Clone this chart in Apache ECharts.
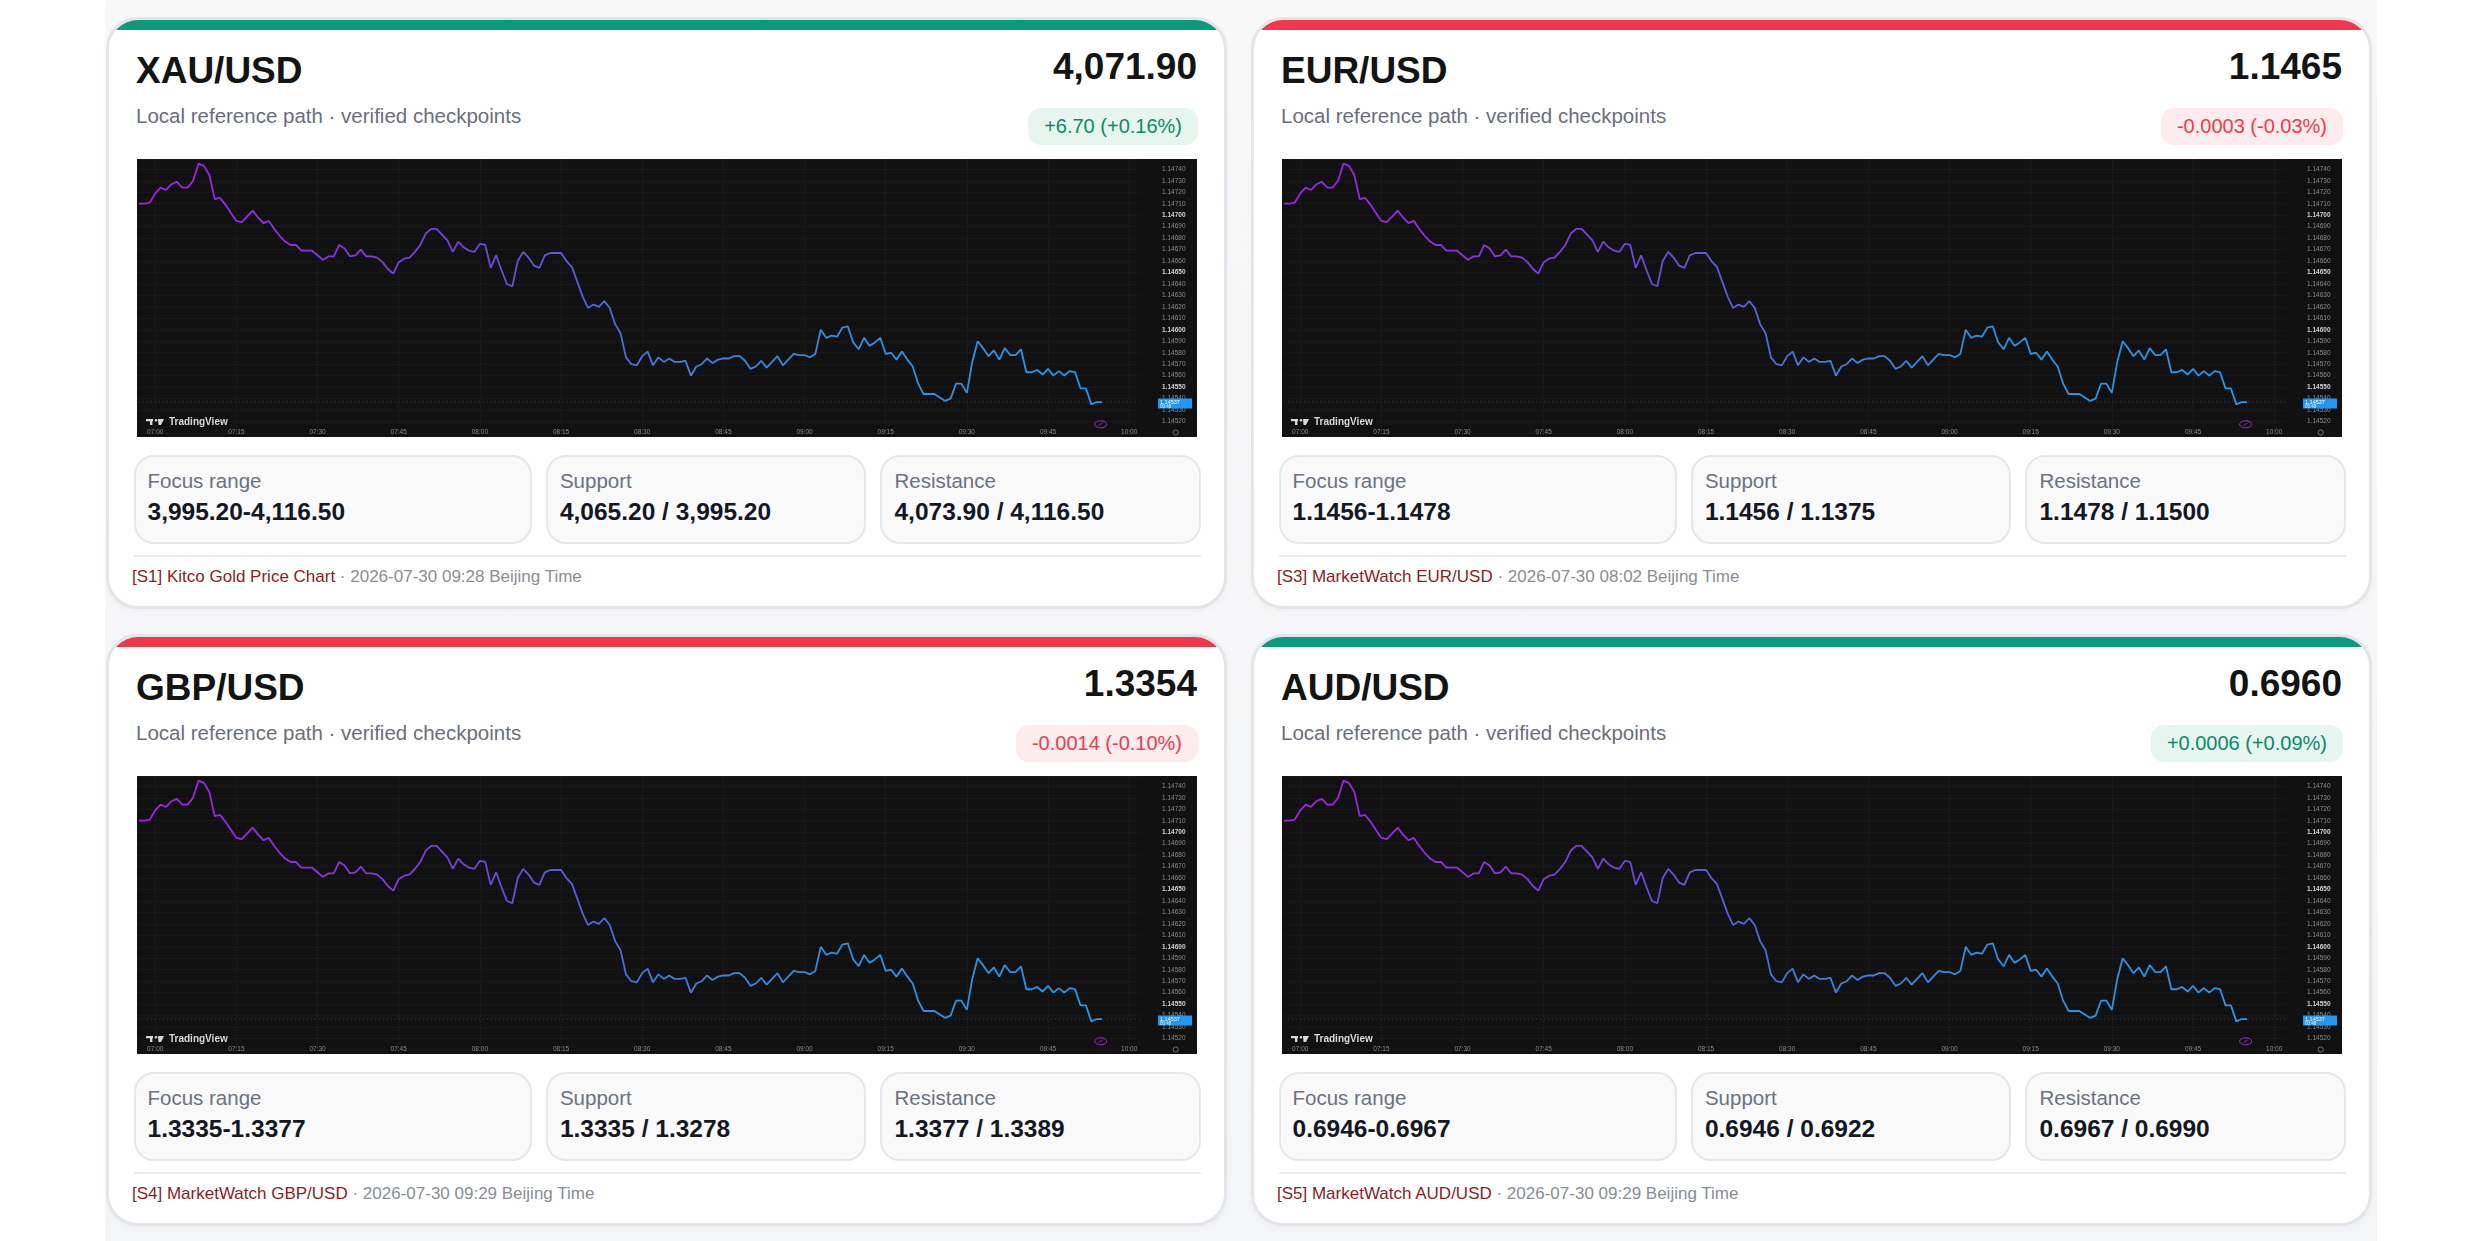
<!DOCTYPE html>
<html>
<head>
<meta charset="utf-8">
<script src="https://cdn.jsdelivr.net/npm/echarts@6.0.0/dist/echarts.min.js"></script>
<style>
  html, body { margin: 0; padding: 0; background: #fff; }
  body { width: 2480px; height: 1241px; overflow: hidden; position: relative;
         font-family: "Liberation Sans", Arial, sans-serif; }
  .wrap { position: absolute; left: 105px; top: 0; width: 2272px; height: 1241px;
          background: linear-gradient(180deg, #f8f8f9 0%, #f4f5f6 100%); }
  .card { position: absolute; width: 1121px; height: 592px; box-sizing: border-box;
          border: 3px solid #e3e5ea; border-radius: 32px; background: #fff; overflow: hidden;
          box-shadow: 0 2px 6px rgba(0,0,0,0.03); }
  .bar { position: absolute; left: 0; right: 0; top: 0; height: 10px; }
  .up .bar { background: #0b9a7e; }
  .down .bar { background: #f1384a; }
  .title { position: absolute; left: 27px; top: 31.6px; font-size: 37px; line-height: 37px;
           font-weight: bold; color: #141414; }
  .price { position: absolute; right: 27px; top: 28.2px; font-size: 37px; line-height: 37px;
           font-weight: bold; color: #141414; }
  .sub { position: absolute; left: 27px; top: 86.3px; font-size: 20.5px; line-height: 20.5px;
         color: #6b6e79; }
  .badge { position: absolute; right: 26px; top: 88px; height: 37px; line-height: 37px;
           padding: 0 16px; font-size: 20px; border-radius: 13px; }
  .up .badge { background: #e7f5ef; color: #0b8a68; }
  .down .badge { background: #fdecee; color: #ef3b4b; }
  .chart { position: absolute; left: 28px; top: 138.7px; width: 1060px; height: 278px; }
  .boxes { position: absolute; left: 24.5px; right: 23px; top: 435px; height: 89px;
           display: grid; grid-template-columns: 1.243fr 1fr 1fr; column-gap: 14px; }
  .box { position: relative; box-sizing: border-box; border: 2px solid #e6e7eb;
         border-radius: 20px; background: #f9f9fa; }
  .lab { position: absolute; left: 12px; top: 14.3px; font-size: 20.5px; line-height: 20.5px;
         color: #6b7280; }
  .val { position: absolute; left: 12px; top: 42.8px; font-size: 24.5px; line-height: 24.5px;
         font-weight: bold; color: #151822; }
  .sep { position: absolute; left: 24.5px; right: 23px; top: 535px; height: 2px; background: #ebecef; }
  .src { position: absolute; left: 23px; top: 547.6px; font-size: 17px; line-height: 17px; color: #8a8d94; }
  .src b { font-weight: normal; color: #8e1b1f; }
</style>
</head>
<body>
<div class="wrap" id="wrap"></div>
<script>
// card texts
var pairs = ['XAU/USD', 'EUR/USD', 'GBP/USD', 'AUD/USD'];
var quotes = ['4,071.90', '1.1465', '1.3354', '0.6960'];
var changes = ['+6.70 (+0.16%)', '-0.0003 (-0.03%)', '-0.0014 (-0.10%)', '+0.0006 (+0.09%)'];
var isUp = [true, false, false, true];
var focusRanges = ['3,995.20-4,116.50', '1.1456-1.1478', '1.3335-1.3377', '0.6946-0.6967'];
var supports = ['4,065.20 / 3,995.20', '1.1456 / 1.1375', '1.3335 / 1.3278', '0.6946 / 0.6922'];
var resistances = ['4,073.90 / 4,116.50', '1.1478 / 1.1500', '1.3377 / 1.3389', '0.6967 / 0.6990'];
var sources = ['[S1] Kitco Gold Price Chart', '[S3] MarketWatch EUR/USD', '[S4] MarketWatch GBP/USD', '[S5] MarketWatch AUD/USD'];
var stamps = ['2026-07-30 09:28 Beijing Time', '2026-07-30 08:02 Beijing Time', '2026-07-30 09:29 Beijing Time', '2026-07-30 09:29 Beijing Time'];

// embedded intraday path (1-minute closes from 06:57)
var startHour = 6, startMinute = 57, slotCount = 186;
var prices = [
  1.14710, 1.14710, 1.14711, 1.14719, 1.14724, 1.14722, 1.14727, 1.14729, 1.14724, 1.14724,
  1.14730, 1.14745, 1.14743, 1.14735, 1.14714, 1.14715, 1.14709, 1.14702, 1.14695, 1.14694,
  1.14699, 1.14704, 1.14698, 1.14693, 1.14695, 1.14688, 1.14682, 1.14677, 1.14674, 1.14674,
  1.14669, 1.14669, 1.14669, 1.14665, 1.14661, 1.14664, 1.14664, 1.14674, 1.14671, 1.14664,
  1.14665, 1.14670, 1.14664, 1.14664, 1.14663, 1.14659, 1.14653, 1.14649, 1.14659, 1.14662,
  1.14663, 1.14668, 1.14674, 1.14684, 1.14688, 1.14688, 1.14683, 1.14678, 1.14668, 1.14677,
  1.14672, 1.14669, 1.14668, 1.14675, 1.14674, 1.14654, 1.14665, 1.14652, 1.14640, 1.14638,
  1.14660, 1.14668, 1.14663, 1.14656, 1.14654, 1.14665, 1.14667, 1.14667, 1.14667, 1.14660,
  1.14655, 1.14642, 1.14629, 1.14619, 1.14622, 1.14620, 1.14625, 1.14619, 1.14605, 1.14597,
  1.14576, 1.14570, 1.14569, 1.14577, 1.14581, 1.14569, 1.14576, 1.14572, 1.14575, 1.14572,
  1.14572, 1.14573, 1.14560, 1.14568, 1.14570, 1.14575, 1.14571, 1.14574, 1.14575, 1.14575,
  1.14577, 1.14577, 1.14573, 1.14566, 1.14568, 1.14573, 1.14567, 1.14572, 1.14577, 1.14569,
  1.14574, 1.14579, 1.14578, 1.14578, 1.14576, 1.14579, 1.14600, 1.14593, 1.14595, 1.14594,
  1.14602, 1.14603, 1.14589, 1.14583, 1.14593, 1.14586, 1.14589, 1.14593, 1.14579, 1.14580,
  1.14574, 1.14581, 1.14574, 1.14568, 1.14553, 1.14544, 1.14544, 1.14544, 1.14541, 1.14538,
  1.14540, 1.14553, 1.14553, 1.14545, 1.14572, 1.14590, 1.14584, 1.14577, 1.14582, 1.14574,
  1.14584, 1.14578, 1.14578, 1.14583, 1.14563, 1.14563, 1.14565, 1.14561, 1.14566, 1.14560,
  1.14564, 1.14560, 1.14564, 1.14563, 1.14549, 1.14549, 1.14535, 1.14537, 1.14537
];
var lastPrice = 1.14537;
var lastTag = ['1.14537', '00:48'];
var priceMin = 1.1451, priceMax = 1.14749, priceStep = 0.0001;

function pad(n) { return (n < 10 ? '0' : '') + n; }
var times = [];
for (var i = 0; i < slotCount; i++) {
  var t = startHour * 60 + startMinute + i;
  times.push(pad(Math.floor(t / 60)) + ':' + pad(t % 60));
}
function isQuarter(index, value) { return parseInt(value.slice(3), 10) % 15 === 0; }

var tvFont = '"Liberation Sans", Arial, sans-serif';
var gridL = 2, gridR = 57;

function baseGraphics() {
  return [
    { id: 'l1', type: 'rect', shape: { x: 9, y: 260, width: 7, height: 2.2 }, style: { fill: '#d9d9d9' } },
    { id: 'l2', type: 'rect', shape: { x: 13, y: 260, width: 2.4, height: 6 }, style: { fill: '#d9d9d9' } },
    { id: 'l3', type: 'circle', shape: { cx: 19, cy: 261.3, r: 1.3 }, style: { fill: '#d9d9d9' } },
    { id: 'l4', type: 'polygon', shape: { points: [[21, 260], [27, 260], [24, 266], [21.5, 266]] }, style: { fill: '#d9d9d9' } },
    { id: 'l5', type: 'text', x: 32, y: 263, style: { text: 'TradingView', fill: '#d9d9d9', fontSize: 10,
      fontWeight: 'bold', fontFamily: tvFont, verticalAlign: 'middle' } },
    { id: 'b1', type: 'ellipse', shape: { cx: 963.7, cy: 265.3, rx: 6, ry: 3.5 },
      style: { fill: 'none', stroke: '#9b30d9', lineWidth: 1 } },
    { id: 'b2', type: 'line', shape: { x1: 961.5, y1: 266.5, x2: 965.5, y2: 264 },
      style: { stroke: '#9b30d9', lineWidth: 0.8 } },
    { id: 'g1', type: 'circle', shape: { cx: 1038.7, cy: 273.5, r: 2.6 },
      style: { fill: 'none', stroke: '#8a8a8a', lineWidth: 0.8 } }
  ];
}

function buildOption() {
  return {
    backgroundColor: '#111111',
    animation: false,
    grid: { left: gridL, right: gridR, top: 0, bottom: 4 },
    xAxis: {
      type: 'category',
      data: times,
      boundaryGap: false,
      axisLine: { show: false },
      axisTick: { show: false },
      axisLabel: { interval: isQuarter, color: '#8a8a8a', fontSize: 6.5, margin: -1,
                   verticalAlign: 'middle', fontFamily: tvFont },
      splitLine: { show: true, interval: isQuarter,
                   lineStyle: { color: 'rgba(255,255,255,0.06)', type: 'dotted', width: 1 } }
    },
    yAxis: {
      type: 'value',
      position: 'right',
      min: priceMin,
      max: priceMax,
      interval: priceStep,
      axisLine: { show: false },
      axisTick: { show: false },
      axisLabel: {
        margin: 22,
        fontFamily: tvFont,
        formatter: function (v) {
          var k = Math.round(v * 100000);
          if (k % 10 !== 0 || k < 114520) return '';
          var s = v.toFixed(5);
          return k % 50 === 0 ? '{b|' + s + '}' : '{n|' + s + '}';
        },
        rich: {
          b: { color: '#d2d2d2', fontSize: 6.5, fontWeight: 'bold', fontFamily: tvFont },
          n: { color: '#8c8c8c', fontSize: 6.5, fontFamily: tvFont }
        }
      },
      splitLine: { lineStyle: { color: 'rgba(255,255,255,0.055)', type: 'dotted', width: 1 } }
    },
    series: [{
      type: 'line',
      data: prices,
      symbol: 'none',
      z: 3,
      lineStyle: {
        width: 1.8,
        color: new echarts.graphic.LinearGradient(0, 0, 1, 0, [
          { offset: 0, color: '#a31ee8' },
          { offset: 0.15, color: '#8e2fe4' },
          { offset: 0.35, color: '#6f45dc' },
          { offset: 0.47, color: '#5560dc' },
          { offset: 0.55, color: '#3f7fdc' },
          { offset: 0.75, color: '#2e8ee0' },
          { offset: 1, color: '#1f9bf0' }
        ])
      }
    }],
    graphic: baseGraphics()
  };
}

// last-price line and tag, placed through the y scale
function addPriceTag(chart) {
  var py = chart.convertToPixel({ yAxisIndex: 0 }, lastPrice);
  var w = chart.getWidth();
  var plotRight = w - gridR;
  var g = baseGraphics();
  g.push({ id: 'pl', type: 'line', z: 2, shape: { x1: gridL, y1: py, x2: plotRight, y2: py },
           style: { stroke: '#5a7fa8', lineWidth: 0.8, lineDash: [1, 3], opacity: 0.45 } });
  g.push({ id: 'pt', type: 'rect', z: 10, shape: { x: plotRight + 18, y: py - 3.6, width: 34, height: 10 },
           style: { fill: '#2196f3' } });
  g.push({ id: 'pt1', type: 'text', z: 11, x: plotRight + 20, y: py,
           style: { text: lastTag[0], fill: '#ffffff', fontSize: 5.5, fontFamily: tvFont, verticalAlign: 'middle' } });
  g.push({ id: 'pt2', type: 'text', z: 11, x: plotRight + 20, y: py + 4.3,
           style: { text: lastTag[1], fill: '#e8f3ff', fontSize: 4.5, fontFamily: tvFont, verticalAlign: 'middle' } });
  chart.setOption({ graphic: g });
}

var wrap = document.getElementById('wrap');
var cardLeft = [1, 1146, 1, 1146];
var cardTop = [17, 17, 634, 634];
var charts = [];
for (var c = 0; c < pairs.length; c++) {
  var card = document.createElement('div');
  card.className = 'card ' + (isUp[c] ? 'up' : 'down');
  card.style.left = cardLeft[c] + 'px';
  card.style.top = cardTop[c] + 'px';
  card.innerHTML =
    '<div class="bar"></div>' +
    '<div class="title">' + pairs[c] + '</div>' +
    '<div class="price">' + quotes[c] + '</div>' +
    '<div class="sub">Local reference path · verified checkpoints</div>' +
    '<div class="badge">' + changes[c] + '</div>' +
    '<div class="chart"></div>' +
    '<div class="boxes">' +
      '<div class="box"><div class="lab">Focus range</div><div class="val">' + focusRanges[c] + '</div></div>' +
      '<div class="box"><div class="lab">Support</div><div class="val">' + supports[c] + '</div></div>' +
      '<div class="box"><div class="lab">Resistance</div><div class="val">' + resistances[c] + '</div></div>' +
    '</div>' +
    '<div class="sep"></div>' +
    '<div class="src"><b>' + sources[c] + '</b> · ' + stamps[c] + '</div>';
  wrap.appendChild(card);
  var myChart = echarts.init(card.querySelector('.chart'));
  myChart.setOption(buildOption());
  addPriceTag(myChart);
  charts.push(myChart);
}
window.addEventListener('resize', function () {
  charts.forEach(function (ch) { ch.resize(); addPriceTag(ch); });
});
</script>
</body>
</html>
